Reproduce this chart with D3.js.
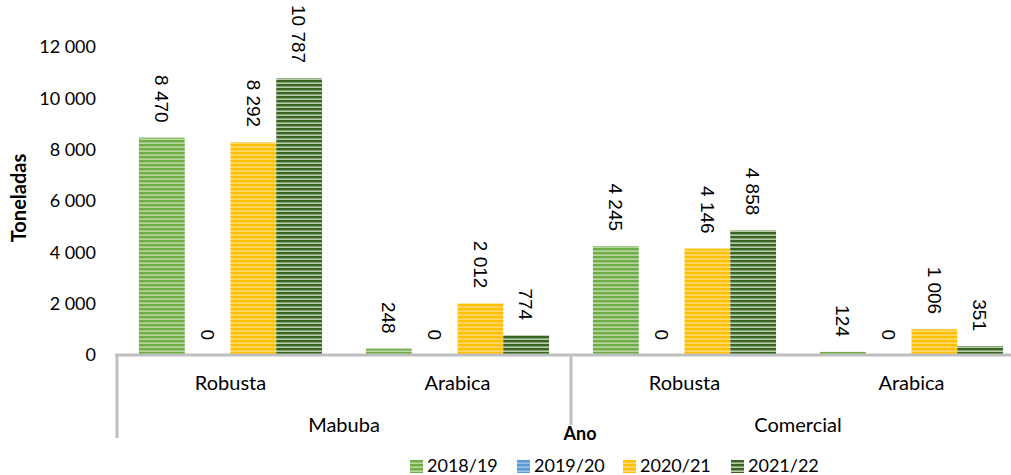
<!DOCTYPE html>
<html>
<head>
<meta charset="utf-8">
<script src="https://cdn.jsdelivr.net/npm/d3@7"></script>
<style>
  body { margin: 0; background: #fff; }
  svg { display: block; font-family: Lato, "Liberation Sans", sans-serif; }
</style>
</head>
<body>
<div class="container"></div>
<script>
// dados
const origins = ["Mabuba", "Comercial"];
const types = ["Robusta", "Arabica"];
const years = ["2018/19", "2019/20", "2020/21", "2021/22"];
const v201819 = [8470, 248, 4245, 124];
const v201920 = [0, 0, 0, 0];
const v202021 = [8292, 2012, 4146, 1006];
const v202122 = [10787, 774, 4858, 351];
const yTicks = [0, 2000, 4000, 6000, 8000, 10000, 12000];

const series = [v201819, v201920, v202021, v202122];
const cats = [];
origins.forEach(o => types.forEach(t => cats.push({ key: o + "|" + t, origin: o, type: t })));

const width = 1011;
const height = 475;
const plotLeft = 117, plotRight = 1025;
const plotTop = 47, plotBottom = 355;

const locale = d3.formatLocale({ decimal: ",", thousands: " ", grouping: [3], currency: ["", ""] });
const fmt = locale.format(",");

const svg = d3.select(".container")
  .append("svg")
  .attr("width", width)
  .attr("height", height);

// padrões listrados
const colors = [
  { base: "#70ad47", stripe: "#c8e2b6" },
  { base: "#5b9bd5", stripe: "#a9cbea" },
  { base: "#ffc000", stripe: "#ffe08a" },
  { base: "#3a6424", stripe: "#d4e5c8" }
];
const defs = svg.append("defs");
colors.forEach((c, i) => {
  const p = defs.append("pattern")
    .attr("id", "pat" + i)
    .attr("patternUnits", "userSpaceOnUse")
    .attr("width", 8).attr("height", 4);
  p.append("rect").attr("width", 8).attr("height", 4).attr("fill", c.base);
  p.append("rect").attr("y", 2.5).attr("width", 8).attr("height", 1.3).attr("fill", c.stripe);
});

const x0 = d3.scaleBand().domain(cats.map(d => d.key)).range([plotLeft, plotRight]).padding(0);
const x1 = d3.scaleBand().domain(years).range([0, x0.bandwidth()]).paddingInner(0).paddingOuter(0.48);
const y = d3.scaleLinear().domain([0, 12000]).range([plotBottom, plotTop]);

// eixo Y (apenas rótulos)
svg.append("g")
  .selectAll("text")
  .data(yTicks)
  .enter()
  .append("text")
  .attr("x", 96)
  .attr("y", d => y(d))
  .attr("dy", "0.35em")
  .attr("text-anchor", "end")
  .attr("font-size", "18px")
  .attr("fill", "#000")
  .text(d => fmt(d));

// barras
const groups = svg.append("g")
  .selectAll("g")
  .data(cats)
  .enter()
  .append("g")
  .attr("transform", d => `translate(${x0(d.key)},0)`);

groups.selectAll("rect")
  .data((d, ci) => years.map((yr, si) => ({ yr, si, v: series[si][ci] })))
  .enter()
  .append("rect")
  .attr("x", d => x1(d.yr))
  .attr("y", d => y(d.v))
  .attr("width", x1.bandwidth())
  .attr("height", d => y(0) - y(d.v))
  .attr("fill", d => `url(#pat${d.si})`);

groups.selectAll("text")
  .data((d, ci) => years.map((yr, si) => ({ yr, si, v: series[si][ci] })))
  .enter()
  .append("text")
  .attr("transform", d => `translate(${x1(d.yr) + x1.bandwidth() / 2},${y(d.v) - 15}) rotate(90)`)
  .attr("text-anchor", "end")
  .attr("dy", "0.35em")
  .attr("font-family", "'Liberation Sans', Arial, sans-serif")
  .attr("font-size", "19px")
  .attr("fill", "#000")
  .text(d => fmt(d.v));

// eixo X multinível
const axisColor = "#bfbfbf";
svg.append("line")
  .attr("x1", plotLeft - 2).attr("x2", plotRight)
  .attr("y1", plotBottom).attr("y2", plotBottom)
  .attr("stroke", axisColor).attr("stroke-width", 3);

svg.append("line")
  .attr("x1", plotLeft).attr("x2", plotLeft)
  .attr("y1", plotBottom).attr("y2", 438)
  .attr("stroke", axisColor).attr("stroke-width", 3);

const midX = x0(cats[2].key);
svg.append("line")
  .attr("x1", midX).attr("x2", midX)
  .attr("y1", plotBottom).attr("y2", 425)
  .attr("stroke", axisColor).attr("stroke-width", 3);

svg.append("g")
  .selectAll("text")
  .data(cats)
  .enter()
  .append("text")
  .attr("x", d => x0(d.key) + x0.bandwidth() / 2)
  .attr("y", 383)
  .attr("dy", "0.35em")
  .attr("text-anchor", "middle")
  .attr("font-size", "20px")
  .text(d => d.type);

svg.append("g")
  .selectAll("text")
  .data(origins)
  .enter()
  .append("text")
  .attr("x", o => {
    const ks = cats.filter(c => c.origin === o);
    return (x0(ks[0].key) + x0(ks[ks.length - 1].key) + x0.bandwidth()) / 2;
  })
  .attr("y", 425)
  .attr("dy", "0.35em")
  .attr("text-anchor", "middle")
  .attr("font-size", "20px")
  .text(d => d);

// títulos
svg.append("text")
  .attr("x", 580)
  .attr("y", 434)
  .attr("dy", "0.35em")
  .attr("text-anchor", "middle")
  .attr("font-size", "18px")
  .attr("font-weight", "bold")
  .text("Ano");

svg.append("text")
  .attr("transform", `translate(19,198) rotate(-90)`)
  .attr("dy", "0.35em")
  .attr("text-anchor", "middle")
  .attr("font-size", "20px")
  .attr("font-weight", "bold")
  .text("Toneladas");

// legenda
const legendX = [410, 517, 623, 731];
const legend = svg.append("g");
legend.selectAll("rect")
  .data(years)
  .enter()
  .append("rect")
  .attr("x", (d, i) => legendX[i])
  .attr("y", 460)
  .attr("width", 13)
  .attr("height", 13)
  .attr("fill", (d, i) => `url(#pat${i})`);
legend.selectAll("text")
  .data(years)
  .enter()
  .append("text")
  .attr("x", (d, i) => legendX[i] + 17)
  .attr("y", 466)
  .attr("dy", "0.35em")
  .attr("font-size", "18px")
  .text(d => d);
</script>
</body>
</html>
